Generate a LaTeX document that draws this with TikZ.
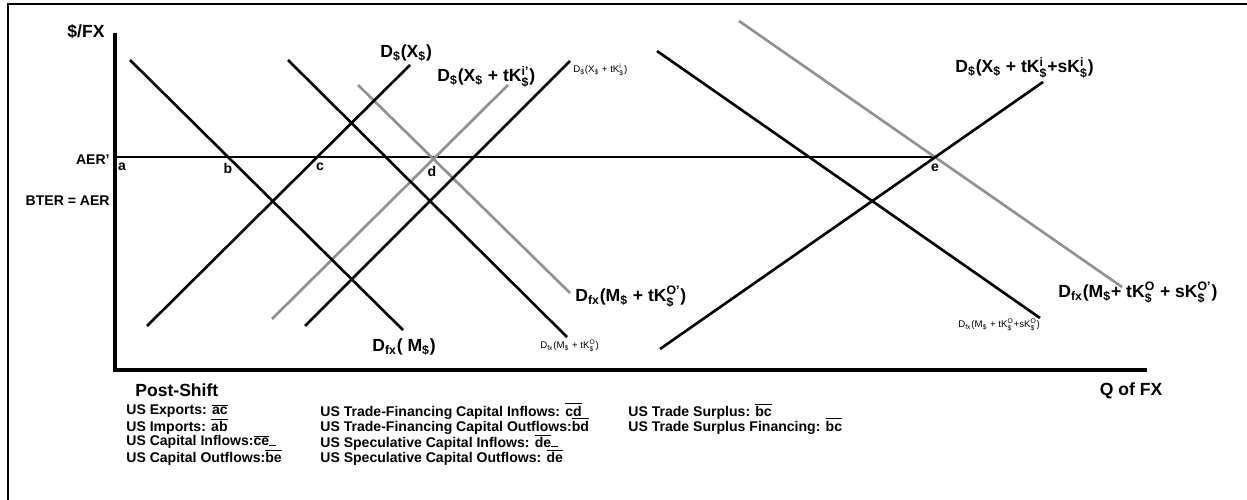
\documentclass[tikz,border=0pt]{standalone}
\usepackage{amsmath}
\usepackage{fontspec}
\setmainfont{Liberation Sans}
\definecolor{curvegray}{RGB}{145,145,145}
\newcommand{\dn}[1]{\ensuremath{_{\text{#1}}}}
\newcommand{\ud}[2]{\ensuremath{^{\text{#1}}_{\text{#2}}}}
\newcommand{\ol}[1]{\ensuremath{\overline{\text{#1}}}}
\begin{document}
\begin{tikzpicture}[x=0.02cm,y=-0.02cm,
  crv/.style={line width=1.5pt,line cap=butt},
  gcrv/.style={line width=1.5pt,draw=curvegray},
  axisline/.style={line width=2.3pt},
  biglab/.style={font=\bfseries\fontsize{10}{12}\selectfont,inner sep=0pt,anchor=west},
  tinylab/.style={font=\fontsize{5.5}{6}\selectfont,inner sep=0pt,anchor=west},
  axlab/.style={font=\bfseries\fontsize{10}{12}\selectfont,inner sep=0pt},
  lvl/.style={font=\bfseries\fontsize{8}{9}\selectfont,inner sep=0pt,anchor=east},
  pt/.style={font=\bfseries\fontsize{8}{9}\selectfont,inner sep=0pt},
  leg/.style={font=\bfseries\fontsize{8}{9}\selectfont,inner sep=0pt,anchor=west}]
\useasboundingbox (0,0) rectangle (1247,500);
\fill[white] (0,0) rectangle (1247,500);
% outer frame (top and left)
\coordinate (fbl) at (8,500);
\coordinate (ftl) at (8,4);
\coordinate (ftr) at (1247,4);
\draw[line width=1.7pt] (fbl) -- (ftl) -- (ftr);
% axes
\coordinate (ytop) at (115,33);
\coordinate (orig) at (115,370);
\coordinate (xend) at (1147,370);
\draw[axisline] (ytop) -- (orig) -- (xend);
% AER' line
\coordinate (aerL) at (117,157);
\coordinate (aerR) at (936,157);
\draw[line width=0.6pt] (aerL) -- (aerR);
% curves
\coordinate (l1a) at (130,60);  \coordinate (l1b) at (403,330);
\coordinate (l2a) at (147,326); \coordinate (l2b) at (410,65);
\coordinate (l3a) at (288,60);  \coordinate (l3b) at (567,337);
\coordinate (l4a) at (305,326); \coordinate (l4b) at (570,61);
\coordinate (g1a) at (358,85);  \coordinate (g1b) at (570,293);
\coordinate (g2a) at (272,319); \coordinate (g2b) at (508,85);
\coordinate (l5a) at (657,51);  \coordinate (l5b) at (1040,318);
\coordinate (l6a) at (660,349); \coordinate (l6b) at (1043,82);
\coordinate (g3a) at (739,21);  \coordinate (g3b) at (1122,287);
\draw[gcrv] (g1a) -- (g1b);
\draw[gcrv] (g2a) -- (g2b);
\draw[gcrv] (g3a) -- (g3b);
\draw[crv] (l1a) -- (l1b);
\draw[crv] (l2a) -- (l2b);
\draw[crv] (l3a) -- (l3b);
\draw[crv] (l4a) -- (l4b);
\draw[crv] (l5a) -- (l5b);
\draw[crv] (l6a) -- (l6b);
% axis labels
\node[axlab] (ylab) at (86,32) {\$/FX};
\node[axlab] (xlab) at (1131,391) {Q of FX};
\node[lvl] (aer) at (110,160) {AER'};
\node[lvl] (bter) at (110,201) {BTER = AER};
% points
\node[pt] (pa) at (122,167) {a};
\node[pt] (pb) at (228,168) {b};
\node[pt] (pc) at (320,167) {c};
\node[pt] (pd) at (432,171) {d};
\node[pt] (pe) at (935,168) {e};
% curve labels
\node[biglab] (t1) at (380,53) {D\dn{\$}(X\dn{\$})};
\node[biglab] (t2) at (437,77) {D\dn{\$}(X\dn{\$} + tK\ud{i'}{\$})};
\node[tinylab] (t3) at (573,70) {D\dn{\$}(X\dn{\$} + tK\ud{i}{\$})};
\node[biglab] (t4) at (955,68) {D\dn{\$}(X\dn{\$} + tK\ud{i}{\$}+sK\ud{i}{\$})};
\node[biglab] (t5) at (575,297) {D\dn{fx}(M\dn{\$} + tK\ud{O'}{\$})};
\node[biglab] (t6) at (372,347) {D\dn{fx}( M\dn{\$})};
\node[tinylab] (t7) at (540,346) {D\dn{fx}(M\dn{\$} + tK\ud{O}{\$})};
\node[biglab] (t8) at (1058,293) {D\dn{fx}(M\dn{\$}+ tK\ud{O}{\$} + sK\ud{O'}{\$})};
\node[tinylab] (t9) at (958,325) {D\dn{fx}(M\dn{\$} + tK\ud{O}{\$}+sK\ud{O}{\$})};
% legend
\node[axlab,anchor=west] (ps) at (135,390) {Post-Shift};
\node[leg] (c1r1) at (126,411) {US Exports: \ol{ac}};
\node[leg] (c1r2) at (126,426) {US Imports: \ol{ab}};
\node[leg] (c1r3) at (126,442) {US Capital Inflows:\ol{ce}\rule{4pt}{0.6pt}};
\node[leg] (c1r4) at (126,457) {US Capital Outflows:\ol{be}};
\node[leg] (c2r1) at (320,411) {US Trade-Financing Capital Inflows: \ol{cd}};
\node[leg] (c2r2) at (320,426) {US Trade-Financing Capital Outflows:\ol{bd}};
\node[leg] (c2r3) at (320,442) {US Speculative Capital Inflows: \ol{de}\rule{4pt}{0.6pt}};
\node[leg] (c2r4) at (320,457) {US Speculative Capital Outflows: \ol{de}};
\node[leg] (c3r1) at (628,411) {US Trade Surplus: \ol{bc}};
\node[leg] (c3r2) at (628,426) {US Trade Surplus Financing: \ol{bc}};
\end{tikzpicture}
\end{document}
